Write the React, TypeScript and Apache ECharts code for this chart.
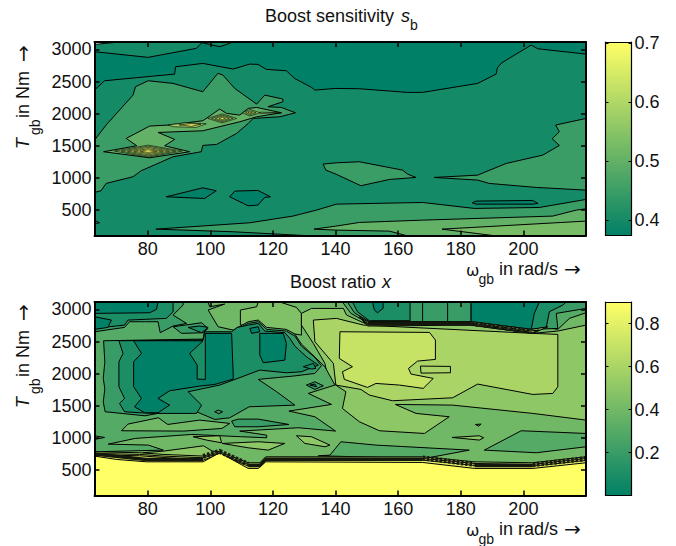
import React, { useEffect, useRef } from "react";
import * as echarts from "echarts";

type Pt = number[];
const xTicks = [80, 100, 120, 140, 160, 180, 200];
const yTicks = [500, 1000, 1500, 2000, 2500, 3000];
const sbBarTicks = [0.4, 0.5, 0.6, 0.7];
const xBarTicks = [0.2, 0.4, 0.6, 0.8];
const wMin = 63, wMax = 220, tMin = 105, tMax = 3115;
const sbLo = 0.374, sbHi = 0.702, xLo = 0, xHi = 0.9;

const frame: Pt[] = [[63,105],[220,105],[220,3115],[63,3115]];

// ---- boost sensitivity contours, [omega, torque] -------------------------
const sbCorner: Pt[] = [[63,3078],[71,3115],[63,3115]];
const sbDarkTop: Pt[] = [[63,2964],[80.1,2876],[95.5,3016],[97.3,3104],[99.8,3078],[103,3041],[107.3,3115],[220,3115],[220,2927],[204.6,3010],[202.5,3067],[194.5,2834],[192.9,2782],[191.7,2715],[191.3,2616],[185.4,2471],[167.8,2331],[163,2331],[147.6,2388],[140.1,2393],[133.4,2367],[132.3,2409],[126.9,2549],[124.3,2668],[117.9,2689],[115.2,2767],[112.6,2772],[107.3,2694],[97.6,2782],[88.9,2730],[88.6,2616],[66.2,2512],[63,2367]];
const sbDarkA: Pt[] = [[85.9,707],[97.6,847],[101.9,801],[98.2,681]];
const sbDarkB: Pt[] = [[106.2,707],[107.8,796],[115.2,806],[119.2,707],[117.4,697],[115.2,578],[112.1,567]];
const sbMain: Pt[] = [[63,1589],[66.7,1823],[75.3,2289],[76.1,2419],[80.1,2512],[88.1,2471],[97.6,2341],[102.4,2627],[104,2601],[107.8,2393],[114.8,2149],[117.4,2289],[123.2,2227],[123.2,2186],[118.4,2108],[122.7,2097],[127.2,2014],[122.2,1952],[113.7,1926],[112.1,1848],[108.4,1693],[102,1522],[97.6,1506],[97.1,1408],[88.1,1330],[77.9,1112],[75.3,1019],[66.7,915],[65.1,801],[63,775]];
const sbMid: Pt[] = [[136,1216],[140.3,1236],[147.6,1252],[161.4,1122],[163,1060],[165.7,1008],[157.2,977],[148.1,879],[140.1,1060],[136.9,1122]];
const sbRight: Pt[] = [[171.5,1008],[185.4,1044],[194.5,1226],[206.2,1356],[211.5,1506],[209.2,1610],[211.5,1719],[210.3,1823],[220,1926],[220,811],[204.1,853],[189.1,915],[185.4,967]];
const sbFloor: Pt[] = [[82.6,204],[112.6,303],[126.4,407],[133.9,500],[140.3,593],[167.8,619],[184.3,526],[205.1,541],[220,666],[220,105],[130,105],[107.3,163]];
const sbNub: Pt[] = [[63,340],[64.6,303],[63,290]];
const sbDarkC: Pt[] = [[183.6,614],[184.9,640],[203,650],[204.7,604],[203,593],[184.9,593]];
const sbRidge: Pt[] = [[65.9,1408],[76.5,1501],[73.1,1615],[80.6,1807],[86.5,1823],[97.6,1890],[103,2072],[105.2,2004],[109.4,1978],[112.1,2082],[114.8,2097],[122.7,2014],[114.8,1952],[109.4,1874],[97.6,1734],[83.3,1708],[88.6,1600],[85.4,1501],[93.4,1408],[80.6,1314]];
const sbFloor2: Pt[] = [[133.1,204],[140.1,251],[147.6,308],[167.8,344],[209.4,407],[216.9,500],[220,521],[220,105],[162.5,105],[157.2,173],[140.1,189]];
const sbFloor3: Pt[] = [[174,204],[220,329],[220,105],[190.2,105]];
const sbPeakA1: Pt[] = [[69.4,1418],[80.1,1511],[91,1418],[80.1,1325]];
const sbPeakA2: Pt[] = [[71.5,1418],[80.1,1495],[89,1418],[80.1,1341]];
const sbPeakA3: Pt[] = [[73.5,1418],[80.1,1475],[87,1418],[80.1,1361]];
const sbPeakA4: Pt[] = [[75.5,1418],[80.1,1455],[85,1418],[80.1,1381]];
const sbPeakA5: Pt[] = [[77.5,1418],[80.1,1437],[83,1418],[80.1,1399]];
const sbPeakB1: Pt[] = [[86.5,1823],[92,1858],[98.7,1843],[95.5,1786],[88.1,1797]];
const sbPeakB2: Pt[] = [[90,1826],[94,1845],[97,1835],[94,1805]];
const sbPeakC1: Pt[] = [[99.2,1926],[103.8,1996],[108.4,1926],[103.8,1856]];
const sbPeakC2: Pt[] = [[100.4,1926],[103.8,1978],[107.2,1926],[103.8,1874]];
const sbPeakC3: Pt[] = [[101.6,1926],[103.8,1961],[106,1926],[103.8,1891]];
const sbPeakC4: Pt[] = [[102.8,1926],[103.8,1944],[104.8,1926],[103.8,1908]];
const sbPeakD1: Pt[] = [[110.2,2014],[112.6,2064],[116,2014],[112.6,1964]];
const sbPeakD2: Pt[] = [[111.2,2014],[112.6,2044],[114.6,2014],[112.6,1984]];
const sbPeakD3: Pt[] = [[112,2014],[112.6,2026],[113.4,2014],[112.6,2002]];
const sbSliver: Pt[] = [[116,2024],[122.7,2014],[116,2004]];

const sbBands: [number, Pt[]][] = [
  [0.4, frame], [0.374, sbDarkTop], [0.374, sbDarkA], [0.374, sbDarkB],
  [0.45, sbMain], [0.45, sbMid], [0.45, sbRight], [0.45, sbFloor], [0.45, sbNub], [0.374, sbDarkC],
  [0.5, sbRidge], [0.5, sbFloor2], [0.53, sbFloor3],
  [0.55, sbPeakA1], [0.58, sbPeakA2], [0.62, sbPeakA3], [0.66, sbPeakA4], [0.7, sbPeakA5],
  [0.58, sbPeakB1], [0.68, sbPeakB2],
  [0.55, sbPeakC1], [0.58, sbPeakC2], [0.62, sbPeakC3], [0.66, sbPeakC4],
  [0.55, sbPeakD1], [0.6, sbPeakD2], [0.66, sbPeakD3], [0.55, sbSliver],
];

// ---- boost ratio contours ------------------------------------------------
const xCap: Pt[] = [[109.6,2760],[109.6,2990],[114.8,3041],[115.3,3115],[122.2,3115],[127.5,3031],[129.1,2938],[129.1,2600]];
const xField: Pt[] = [[99.3,3115],[99.8,3041],[104.6,3083],[99.3,2990],[102.5,2730],[107.3,2678],[112.1,2808],[115.3,2834],[118,2720],[124.3,2689],[127,2616],[129.1,2460],[136.6,2108],[139.8,1823],[131.3,1693],[138.7,1522],[125.1,1418],[133.4,1330],[140,1107],[128.1,1159],[109.4,1107],[118,1044],[118,1003],[110,1019],[94.1,1055],[76,993],[67.4,904],[80.2,889],[85,811],[63,785],[63,3115]];
const xRing3: Pt[] = [[65.9,2512],[97.7,2538],[98,2627],[106.8,2627],[108.6,2689],[112.1,2782],[115.3,2808],[118,2689],[124.3,2663],[127,2585],[129.1,2429],[133.4,2253],[135.5,2123],[133.4,2004],[126.5,1963],[115.3,1911],[121.2,1719],[127,1511],[112.4,1485],[106.2,1314],[101.4,1288],[95.6,1408],[86.1,1408],[79.1,1345],[66.4,1408],[65.8,1560],[66.3,1760],[65.8,1930],[66.3,2180]];
const xRing2: Pt[] = [[70.8,2512],[97.7,2523],[98.2,2652],[106.8,2652],[108.6,2720],[112.1,2756],[115.3,2782],[117.4,2663],[123.8,2637],[125.4,2549],[127,2429],[130.7,2263],[134.5,2134],[129.1,2030],[124.3,2014],[115.8,2056],[107.3,1900],[103,1823],[92.9,1719],[97.2,1511],[95.6,1382],[82.8,1382],[77.4,1392],[72.6,1408],[71,1537],[72.6,1615],[70.8,1797],[70.8,2186],[72.1,2315]];
const xCore: Pt[] = [[75.5,2512],[97.7,2512],[93.4,2315],[95.8,2134],[95.8,1916],[98.4,1911],[98.4,2627],[106.8,2627],[107.3,2004],[107.3,1916],[101.4,1833],[96.6,1807],[87,1734],[83.3,1615],[87,1511],[83.3,1392],[79,1392],[75.8,1485],[78,1615],[75.5,1797],[75.5,2186],[78,2315]];
const xCoreB: Pt[] = [[115.8,2627],[123.3,2627],[124.3,2471],[123.8,2211],[116.9,2170],[115.8,2289]];
const xCoreC: Pt[] = [[112.6,2704],[115.3,2730],[115.8,2652],[113.2,2627]];
const xTipA: Pt[] = [[129.7,2108],[132.9,2160],[133.7,2082],[132.3,2072]];
const xTipB: Pt[] = [[130.7,1823],[133.4,1874],[136.1,1812],[133.4,1755]];
const xTipC: Pt[] = [[131.8,1823],[133.4,1838],[133.9,1797]];
const xTopLeft3: Pt[] = [[63,2652],[72.6,2720],[74.2,2808],[79,2808],[83.3,2808],[84,2637],[88.1,2741],[92.4,2782],[88.1,2912],[91.3,3067],[91.3,3115],[63,3115]];
const xTopLeft2: Pt[] = [[63,2704],[72.6,2756],[73.7,2834],[86,2860],[88.1,2964],[88.1,3115],[63,3115]];
const xTopLeft1: Pt[] = [[63,3115],[63,2938],[80.6,2948],[82.8,3000],[83.3,3115]];
const xTopLeft1b: Pt[] = [[63,2886],[68.4,2834],[67.3,2720],[63,2689]];
const xIsle3: Pt[] = [[88.1,2730],[97.2,2792],[99.3,2704],[97.7,2637],[90.8,2627]];
const xIsle2: Pt[] = [[92.9,2720],[96.6,2741],[99.3,2720],[97.2,2637]];
const xPlateau6: Pt[] = [[129.1,2938],[132.3,3015],[142.5,3015],[143.5,2912],[149.4,2782],[183.3,2756],[203,2627],[211,2663],[220,2756],[220,1278],[203,1382],[177.4,1511],[159.1,1522],[165.7,1382],[176.3,1330],[168.4,1070],[154,1112],[147.6,1252],[142.2,1459],[143.3,1719],[137.7,1900],[136.6,2160],[132.9,2471],[129.1,2756]];
const xPlateau7: Pt[] = [[132.9,2834],[140.3,2860],[148.9,2756],[203,2627],[211,2611],[211,1797],[209.4,1693],[203,1677],[185.4,1838],[177.4,1625],[158.2,1579],[150.8,1667],[148.1,1755],[140.1,1823],[139.3,2160],[133.4,2497]];
const xPlateau8: Pt[] = [[141.4,2652],[170,2642],[171.9,2523],[171.9,2222],[166.2,2196],[163.3,2082],[164.1,1994],[171.2,1926],[168,1771],[160.4,1823],[152.9,1848],[150.2,1786],[142.8,1911],[142.2,2030],[145.4,2108],[141.2,2237]];
const xSlot: Pt[] = [[167.1,2118],[176.7,2113],[176.7,2014],[167.3,2009]];
const xRidge4: Pt[] = [[187.5,811],[199.3,1112],[220,1070],[220,863],[204.1,770]];
const xLow4: Pt[] = [[134.5,723],[138.2,733],[141.7,941],[152.9,889],[182.7,811],[168.4,681]];
const xSpot4: Pt[] = [[184.7,1210],[186.5,1216],[185.7,1184]];
const xLens1: Pt[] = [[127.5,1034],[132.3,1019],[138.2,889],[136.6,863],[130.2,915]];
const xLens2: Pt[] = [[103.8,915],[115.3,941],[123.8,915],[118.5,811],[112.1,847]];
const xLens3: Pt[] = [[177.2,1008],[185.9,1034],[187.3,1003],[185.9,967]];
const xLens4: Pt[] = [[94.5,1019],[103,1034],[103.6,925],[98.8,967]];
const xDotA: Pt[] = [[101.4,1408],[102.5,1433],[103.9,1408],[102.7,1376]];
const xDotB: Pt[] = [[99.8,1216],[103,1226],[103.2,1174],[102,1200]];
const xPocket: Pt[] = [[106.8,1262],[108.9,1293],[115.3,1293],[125.1,1210],[115.3,1174],[107.8,1174]];
const xWedge: Pt[] = [[71.6,1112],[73.7,1216],[83.4,1314],[86.4,1210],[96.6,1278],[106.2,1226],[103.7,1148],[91.5,1107]];
const xNub: Pt[] = [[63,1034],[66.2,1008],[63,977]];
const xSkirt: Pt[] = [[78.5,770],[85,795],[97.8,878],[100.7,795],[103,785],[97.7,666],[79.6,645]];
const xRimA: Pt[] = [[63,785],[77.4,770],[84.9,744],[97.7,718],[103,785],[112.1,614],[115.8,614],[117.7,707],[167.8,707],[184.4,629],[203,614],[220,707],[220,105],[63,105]];
const xRimB: Pt[] = [[63,759],[77.4,744],[84.9,718],[97.7,692],[103,759],[112.1,588],[115.8,588],[117.7,681],[167.8,681],[184.4,603],[203,588],[220,681],[220,105],[63,105]];
const xRimC: Pt[] = [[63,738],[77.4,723],[84.9,697],[97.7,655],[103,749],[112.1,562],[115.8,562],[117.7,655],[167.8,655],[184.4,572],[203,562],[220,650],[220,105],[63,105]];
const xSaturated: Pt[] = [[63,718],[70,666],[79.6,629],[97.7,629],[103,770],[112.1,526],[115.3,526],[117.7,629],[167.8,619],[184.4,526],[203,526],[220,614],[220,105],[63,105]];
const xUpper4: Pt[] = [[142.2,3115],[144.9,2938],[150.2,2792],[183.3,2808],[202.5,2689],[207.3,2720],[211,2689],[214.7,2860],[220,2948],[220,3115]];
const xUpper3: Pt[] = [[143.8,3115],[146,2948],[150.8,2808],[183.3,2808],[202.5,2689],[211,2704],[210.5,2938],[220,3015],[220,3115]];
const xUpper2a: Pt[] = [[145.4,3115],[147,2964],[150.8,2824],[163.8,2824],[163.8,3115]];
const xUpper2b: Pt[] = [[183.3,3115],[183.3,2808],[202.5,2689],[207.3,2720],[208.3,2964],[212.6,3067],[213.7,3115]];
const xUpper1a: Pt[] = [[151.8,3115],[152.4,2990],[153.4,2948],[155.2,3015],[155.2,3115]];
const xUpper1b: Pt[] = [[183.3,3115],[183.3,2808],[202.5,2689],[203.5,2938],[205.1,3115]];
const xUpperMid: Pt[] = [[167.8,3115],[167.8,2808],[175.8,2808],[175.8,3115]];
const xRimTopA: Pt[] = [[147.6,2886],[150.2,2808],[183.3,2808],[202.5,2689],[207.8,2730],[203,2627],[183.3,2756],[150.2,2741]];
const xRimTopB: Pt[] = [[148.5,2850],[150.2,2780],[183.3,2785],[202.5,2665],[205,2680],[203,2640],[183.3,2770],[150.2,2760]];
const xHatched: Pt[][] = [
  [[97.7,715],[103,790],[112.1,590]],
  [[167.8,690],[184.4,590]],
  [[203,585],[220,680]],
  [[183.3,2782],[202.5,2660]],
];
const xSolidRuns: Pt[][] = [
  [[63,750],[79.6,665],[97.7,665]],
  [[112.1,570],[115.8,570],[117.7,670],[167.8,670]],
  [[184.4,570],[203,570]],
  [[150.2,2775],[183.3,2780]],
];

const xBands: [number, Pt[]][] = [
  [0.4, frame], [0.45, xCap], [0.5, xPlateau6], [0.6, xPlateau7], [0.7, xPlateau8], [0.6, xSlot],
  [0.3, xField], [0.2, xRing3], [0.1, xRing2], [0, xCore], [0, xCoreB], [0, xCoreC],
  [0.1, xTipA], [0.2, xTipB], [0.1, xTipC],
  [0.2, xTopLeft3], [0.1, xTopLeft2], [0, xTopLeft1], [0, xTopLeft1b],
  [0.2, xIsle3], [0.1, xIsle2],
  [0.3, xRidge4], [0.3, xLow4], [0.3, xSpot4],
  [0.5, xLens1], [0.5, xLens2], [0.5, xLens3], [0.5, xLens4],
  [0.2, xDotA], [0.2, xDotB], [0.2, xPocket], [0.4, xWedge], [0.4, xNub], [0.5, xSkirt],
  [0.6, xRimA], [0.7, xRimB], [0.8, xRimC], [0.9, xSaturated],
  [0.3, xUpper4], [0.2, xUpper3], [0.1, xUpper2a], [0.1, xUpper2b], [0, xUpper1a], [0, xUpper1b], [0.2, xUpperMid],
  [0.5, xRimTopA], [0.6, xRimTopB],
];

const ink = "#000";
const fontFamily = "Liberation Sans";
const shade = (level: number, lo: number, hi: number) => {
  const t = Math.min(1, Math.max(0, (level - lo) / (hi - lo)));
  return `rgb(${Math.round(255 * t)},${Math.round(128 + 127 * t)},102)`;
};

const contourSeries = (bands: [number, Pt[]][], lo: number, hi: number, axis: number, blanks: Pt[][] = [], fineFrom = 2, hatched: Pt[][] = [], solid: Pt[][] = []) => ({
  type: "custom", coordinateSystem: "cartesian2d", xAxisIndex: axis, yAxisIndex: axis, clip: true, silent: true, z: 2,
  data: Array.from({ length: bands.length + blanks.length + hatched.length + solid.length }, (_, i) => [i]),
  renderItem: (_: any, api: any) => {
    let i = api.value(0);
    const pts = (r: Pt[]) => r.map((p) => api.coord(p));
    if (i < bands.length) {
      const [level, ring] = bands[i];
      return { type: "polygon", shape: { points: pts(ring) }, style: { fill: shade(level, lo, hi), stroke: ink, lineWidth: level >= fineFrom ? 0.6 : 1 } };
    }
    i -= bands.length;
    if (i < blanks.length) return { type: "polygon", shape: { points: pts(blanks[i]) }, style: { fill: "#fff", stroke: ink, lineWidth: 1 } };
    i -= blanks.length;
    if (i < hatched.length) return { type: "polyline", shape: { points: pts(hatched[i]) }, style: { fill: "none", stroke: "#1a1a10", lineWidth: 5, lineDash: [2.5, 1.8] } };
    i -= hatched.length;
    return { type: "polyline", shape: { points: pts(solid[i]) }, style: { fill: "none", stroke: "#14180c", lineWidth: 3.5 } };
  },
});

const barSeries = (lo: number, hi: number, axis: number) => ({
  type: "custom", coordinateSystem: "cartesian2d", xAxisIndex: axis, yAxisIndex: axis, silent: true, z: 2, data: [[0]],
  renderItem: (_: any, api: any) => {
    const a = api.coord([0, hi]);
    const b = api.coord([1, lo]);
    return {
      type: "rect", shape: { x: a[0], y: a[1], width: b[0] - a[0], height: b[1] - a[1] },
      style: { fill: new echarts.graphic.LinearGradient(0, 0, 0, 1, [{ offset: 0, color: "rgb(255,255,102)" }, { offset: 1, color: "rgb(0,128,102)" }]) },
    };
  },
});

const label = (text: string, x: number, y: number, size: number, extra: any = {}, rotation = 0) => ({
  type: "text", x, y, rotation, silent: true,
  style: { text, fontSize: size, fontFamily, fill: "#111", verticalAlign: "bottom", ...extra },
});

const arrowFont = { fontFamily: "DejaVu Sans" };
const omegaLabel = (y: number) => [
  label("ω", 466, y, 16, arrowFont),
  label("gb", 478.5, y + 8, 14),
  label("in rad/s", 499, y, 18),
  label("→", 564, y + 1, 20, arrowFont),
];
const torqueLabel = (dy: number) => [
  label("T", 32, 149 + dy, 18, { fontStyle: "italic" }, Math.PI / 2),
  label("gb", 42, 135 + dy, 14, {}, Math.PI / 2),
  label("in Nm", 32, 118 + dy, 18, {}, Math.PI / 2),
  label("→", 33, 62 + dy, 20, arrowFont, Math.PI / 2),
];

const plain = (v: number) => String(v);
const plotAxes = (grid: number) => {
  const line = { show: true, onZero: false, lineStyle: { color: ink, width: 2 } };
  const tick = { show: true, inside: true, length: 5, lineStyle: { color: ink, width: 1.5 } };
  const text = { fontSize: 18, fontFamily, color: "#111", hideOverlap: false, showMinLabel: true, showMaxLabel: true, formatter: plain };
  const common = { gridIndex: grid, type: "value", z: 10, splitLine: { show: false }, axisLine: line };
  return {
    x: [
      { ...common, position: "bottom", min: wMin, max: wMax, axisTick: { ...tick, customValues: xTicks }, axisLabel: { ...text, margin: 4, customValues: xTicks } },
      { ...common, position: "top", min: wMin, max: wMax, axisTick: { ...tick, customValues: xTicks }, axisLabel: { show: false } },
    ],
    y: [
      { ...common, position: "left", min: tMin, max: tMax, axisTick: { ...tick, customValues: yTicks }, axisLabel: { ...text, margin: 3, customValues: yTicks } },
      { ...common, position: "right", min: tMin, max: tMax, axisTick: { ...tick, customValues: yTicks }, axisLabel: { show: false } },
    ],
  };
};
const barAxes = (grid: number, lo: number, hi: number, ticks: number[]) => {
  const line = { show: true, onZero: false, lineStyle: { color: ink, width: 1.2 } };
  const tick = { show: true, inside: true, length: 3, lineStyle: { color: ink, width: 1 } };
  const text = { fontSize: 18, fontFamily, color: "#111", margin: 3, hideOverlap: false, showMinLabel: true, showMaxLabel: true, formatter: (v: number) => v.toFixed(1) };
  const side = { min: 0, max: 1, type: "value", gridIndex: grid, z: 10, splitLine: { show: false }, axisLine: line, axisTick: { show: false }, axisLabel: { show: false } };
  const common = { gridIndex: grid, type: "value", z: 10, min: lo, max: hi, splitLine: { show: false }, axisLine: line };
  return {
    x: [{ ...side, position: "bottom" }, { ...side, position: "top" }],
    y: [
      { ...common, position: "right", axisTick: { ...tick, customValues: ticks }, axisLabel: { ...text, customValues: ticks } },
      { ...common, position: "left", axisTick: { ...tick, customValues: ticks }, axisLabel: { show: false } },
    ],
  };
};

export default function App() {
  const ref = useRef<HTMLDivElement>(null);
  useEffect(() => {
    const chart = echarts.init(ref.current!, undefined, { renderer: "svg" });
    const a0 = plotAxes(0), a1 = plotAxes(1), a2 = barAxes(2, sbLo, sbHi, sbBarTicks), a3 = barAxes(3, xLo, xHi, xBarTicks);
    chart.setOption({
      animation: false,
      backgroundColor: "#fff",
      grid: [
        { left: 94.5, top: 42, width: 491.5, height: 193.5 },
        { left: 94.5, top: 302, width: 491.5, height: 193.5 },
        { left: 605.5, top: 42, width: 26, height: 193.5 },
        { left: 605.5, top: 302, width: 26, height: 193.5 },
      ],
      xAxis: [...a0.x, ...a1.x, ...a2.x, ...a3.x],
      yAxis: [...a0.y, ...a1.y, ...a2.y, ...a3.y],
      series: [
        contourSeries(sbBands, sbLo, sbHi, 0, [sbCorner], 0.55),
        contourSeries(xBands, xLo, xHi, 2, [], 2, xHatched, xSolidRuns),
        barSeries(sbLo, sbHi, 4),
        barSeries(xLo, xHi, 6),
      ],
      graphic: [
        label("Boost sensitivity", 265, 25, 18),
        label("s", 401, 25, 18, { fontStyle: "italic" }),
        label("b", 410, 32, 14),
        label("Boost ratio", 290, 291, 18),
        label("x", 382, 291, 18, { fontStyle: "italic" }),
        ...omegaLabel(278),
        ...omegaLabel(538),
        ...torqueLabel(0),
        ...torqueLabel(259),
      ],
    });
    return () => chart.dispose();
  }, []);
  return <div ref={ref} style={{ position: "absolute", left: 0, top: 0, width: 676, height: 546 }} />;
}
